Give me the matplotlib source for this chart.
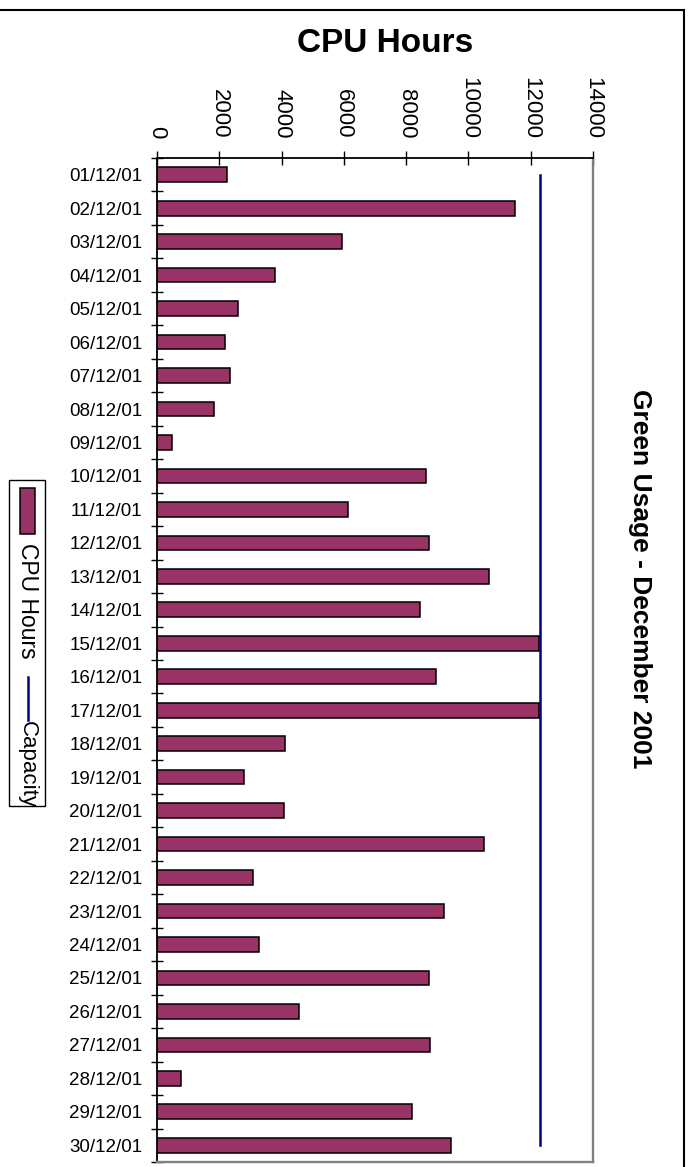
import matplotlib
matplotlib.use('Agg')
import matplotlib.pyplot as plt
from matplotlib.patches import Rectangle
from matplotlib.lines import Line2D

plt.rcParams['font.family'] = ['Liberation Sans', 'DejaVu Sans']

dates = ['01/12/01', '02/12/01', '03/12/01', '04/12/01', '05/12/01', '06/12/01',
         '07/12/01', '08/12/01', '09/12/01', '10/12/01', '11/12/01', '12/12/01',
         '13/12/01', '14/12/01', '15/12/01', '16/12/01', '17/12/01', '18/12/01',
         '19/12/01', '20/12/01', '21/12/01', '22/12/01', '23/12/01', '24/12/01',
         '25/12/01', '26/12/01', '27/12/01', '28/12/01', '29/12/01', '30/12/01']
cpu_hours = [2250, 11500, 5950, 3790, 2600, 2180, 2340, 1830, 480, 8640,
             6130, 8730, 10660, 8450, 12270, 8960, 12270, 4110, 2790, 4080,
             10500, 3080, 9220, 3280, 8730, 4560, 8770, 770, 8190, 9440]
capacity = [12300, 12300, 12300, 12300, 12300, 12300, 12300, 12300, 12300, 12300,
            12300, 12300, 12300, 12300, 12300, 12300, 12300, 12300, 12300, 12300,
            12300, 12300, 12300, 12300, 12300, 12300, 12300, 12300, 12300, 12300]
x_ticks = [0, 2000, 4000, 6000, 8000, 10000, 12000, 14000]

BAR = '#993366'
LINE = '#000080'
W, H = 691, 1167

def fx(px):
    return px / W

def fy(py):
    return 1 - py / H

fig = plt.figure(figsize=(W / 100, H / 100), dpi=100)
ax = fig.add_axes([fx(157), fy(1162), (593 - 157) / W, (1162 - 158) / H])

pos = list(range(len(dates)))
ax.barh(pos, cpu_hours, height=0.44, color=BAR, edgecolor='black', linewidth=1.1, zorder=2)
ax.plot(capacity, pos, color=LINE, lw=1.8, zorder=3)

ax.set_xlim(0, 14000)
ax.set_ylim(len(dates) - 0.5, -0.5)
ax.xaxis.tick_top()
ax.set_xticks(x_ticks)
ax.set_xticklabels([str(v) for v in x_ticks], rotation=-90, fontsize=16)
ax.tick_params(axis='x', which='major', direction='inout', length=10, width=1, pad=9)

ax.set_yticks([p - 0.5 for p in pos] + [pos[-1] + 0.5])
ax.set_yticklabels([])
ax.set_yticks(pos, minor=True)
ax.set_yticklabels(dates, minor=True, fontsize=13.5)
ax.tick_params(axis='y', which='major', direction='inout', length=8.6, width=1)
ax.tick_params(axis='y', which='minor', length=0, pad=10.5)

for s in ('top', 'left'):
    ax.spines[s].set_color('black')
    ax.spines[s].set_linewidth(1.3)
for s in ('right', 'bottom'):
    ax.spines[s].set_color('#808080')
    ax.spines[s].set_linewidth(1.7)

fig.text(fx(385), fy(52), 'CPU Hours', fontsize=24, fontweight='bold',
         ha='center', va='baseline')
fig.text(fx(640), fy(579), 'Green Usage - December 2001', rotation=-90,
         fontsize=19, fontweight='bold', ha='center', va='center')

# legend
fig.add_artist(Rectangle((fx(9), fy(806)), (45 - 9) / W, (806 - 480) / H,
                         transform=fig.transFigure, facecolor='white',
                         edgecolor='black', lw=1))
fig.add_artist(Rectangle((fx(20), fy(534)), (35 - 20) / W, (534 - 488) / H,
                         transform=fig.transFigure, facecolor=BAR,
                         edgecolor='black', lw=1.1))
fig.text(fx(27.5), fy(543), 'CPU Hours', rotation=-90, fontsize=16.5,
         ha='center', va='top')
fig.add_artist(Line2D([fx(27.5), fx(27.5)], [fy(677), fy(720)],
                      transform=fig.transFigure, color=LINE, lw=1.8))
fig.text(fx(27.5), fy(721), 'Capacity', rotation=-90, fontsize=16,
         ha='center', va='top')

# outer frame
fig.add_artist(Line2D([0, fx(684)], [fy(10), fy(10)], transform=fig.transFigure,
                      color='black', lw=1.5))
fig.add_artist(Line2D([fx(684), fx(684)], [fy(10), 0], transform=fig.transFigure,
                      color='black', lw=1.5))

fig.savefig('out.png', dpi=100)
